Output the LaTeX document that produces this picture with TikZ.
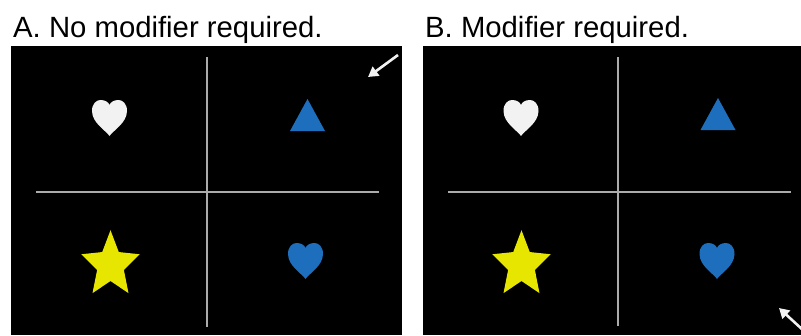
\documentclass[tikz,border=0pt]{standalone}
\usepackage{fontspec}
\setmainfont{Liberation Sans}
\usetikzlibrary{arrows.meta}

\definecolor{panelgray}{HTML}{ABABAB}
\definecolor{shapeblue}{HTML}{1E6EBE}
\definecolor{staryellow}{HTML}{E6E600}
\definecolor{heartwhite}{HTML}{F2F2F2}

\tikzset{
  panel/.style={fill=black},
  gridline/.style={draw=panelgray, line width=2.2pt},
  caption/.style={anchor=base west, inner sep=0pt, font=\fontsize{29.3}{35}\selectfont},
  pointer/.style={draw=heartwhite, line width=2.6pt, -{Triangle[length=10pt,width=11pt]}},
  % heart: notch at the origin's top, tip 36 units below (y grows downwards)
  heartshape/.pic={
    \path[pic actions] (0,36)
      .. controls (-3,31) and (-17.5,23) .. (-17.5,11)
      .. controls (-17.5,3.5) and (-13,0) .. (-9,0)
      .. controls (-4.5,0) and (-1,2) .. (0,5)
      .. controls (1,2) and (4.5,0) .. (9,0)
      .. controls (13,0) and (17.5,3.5) .. (17.5,11)
      .. controls (17.5,23) and (3,31) .. (0,36) -- cycle;
  },
  % five-pointed star centred on the origin, one point up (y grows downwards)
  starshape/.pic={
    \path[pic actions] (-90:34.8)
      -- (-126:16) -- (-162:34.8) -- (-198:16) -- (-234:34.8)
      -- (-270:16) -- (-306:34.8) -- (-342:16) -- (-18:34.8)
      -- (-54:16) -- cycle;
  },
  triangleshape/.pic={
    \path[pic actions] (0,-32) -- (-17.5,0) -- (17.5,0) -- cycle;
  }
}

\begin{document}
\begin{tikzpicture}[x=1pt, y=-1pt]
  \useasboundingbox (0,0) rectangle (801,335);

  % ---- panel A ----
  \node[caption] (capA) at (13,37) {A. No modifier required.};
  \fill[panel] (11,46) rectangle (402,335);
  \draw[gridline] (207,57) -- (207,327);
  \draw[gridline] (36,192) -- (379,192);
  \pic[fill=heartwhite] at (109.5,100) {heartshape};
  \pic[fill=shapeblue] at (307.5,131) {triangleshape};
  \pic[fill=staryellow, xscale=0.88] at (110.5,265) {starshape};
  \pic[fill=shapeblue] at (305.5,243) {heartshape};
  \coordinate (tailA) at (398,55);
  \coordinate (tipA) at (368,77);
  \draw[pointer] (tailA) -- (tipA);

  % ---- panel B ----
  \node[caption] (capB) at (425,37) {B. Modifier required.};
  \fill[panel] (423,46) rectangle (801,335);
  \draw[gridline] (618,57) -- (618,326);
  \draw[gridline] (448,192) -- (791,192);
  \pic[fill=heartwhite] at (521,100) {heartshape};
  \pic[fill=shapeblue] at (718,130) {triangleshape};
  \pic[fill=staryellow, xscale=0.88] at (521.5,265) {starshape};
  \pic[fill=shapeblue] at (717,243) {heartshape};
  \begin{scope}
    \clip (423,46) rectangle (801,335);
    \coordinate (tailB) at (804,331);
    \coordinate (tipB) at (779,308);
    \draw[pointer] (tailB) -- (tipB);
  \end{scope}
\end{tikzpicture}
\end{document}
